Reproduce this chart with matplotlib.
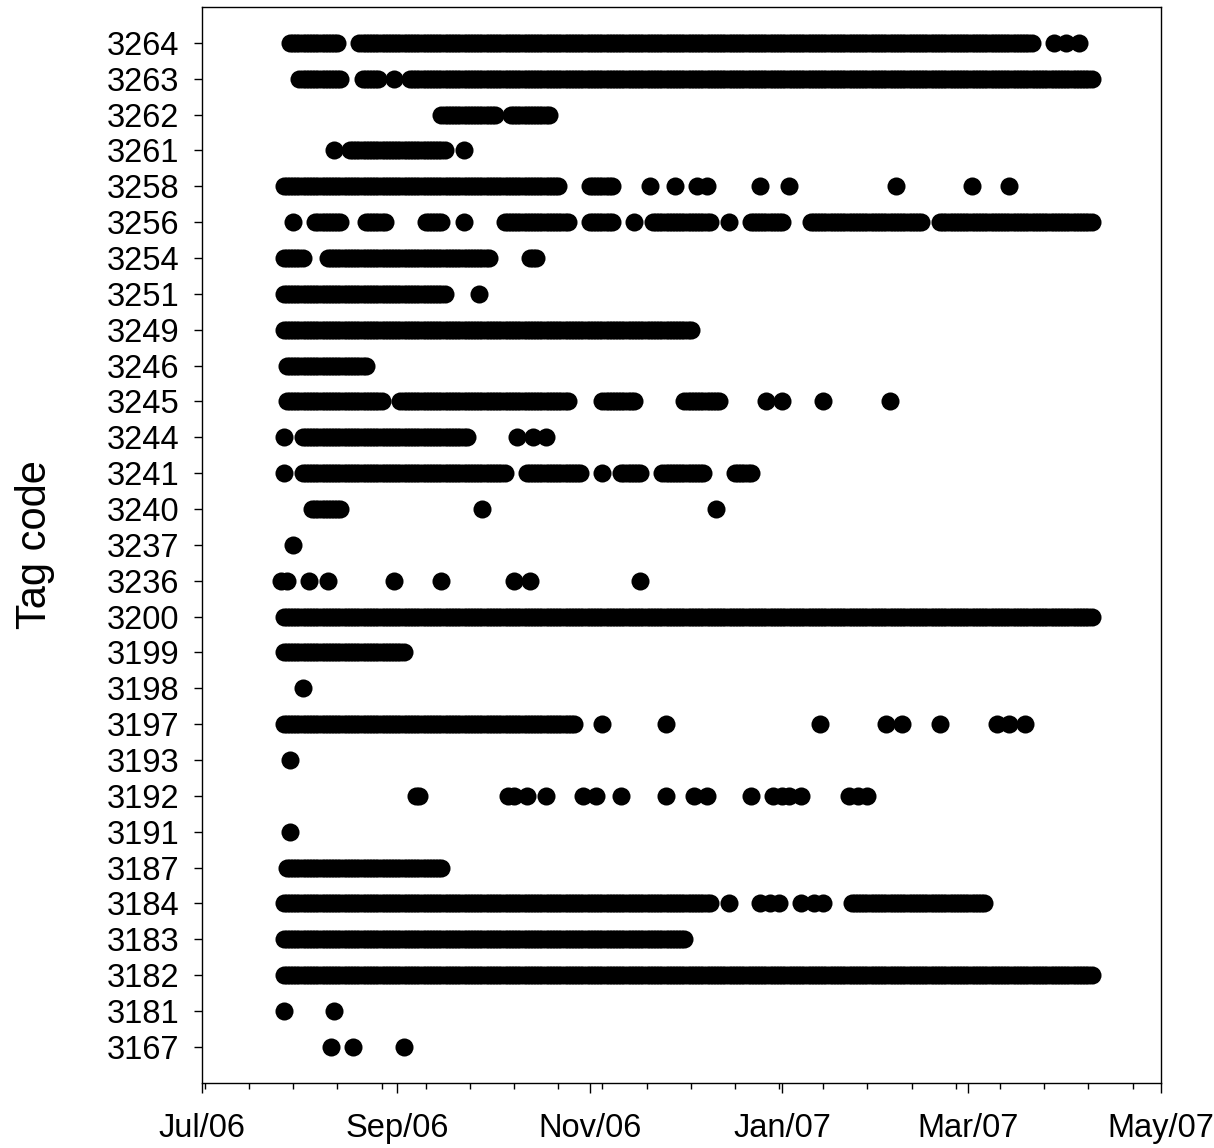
import matplotlib
matplotlib.use("Agg")
import matplotlib.pyplot as plt
import matplotlib.dates as mdates
import pandas as pd

plt.rcParams["font.family"] = ["Liberation Sans", "DejaVu Sans"]

# tag codes, top to bottom
tags = ["3264", "3263", "3262", "3261", "3258", "3256", "3254", "3251", "3249",
        "3246", "3245", "3244", "3241", "3240", "3237", "3236", "3200", "3199",
        "3198", "3197", "3193", "3192", "3191", "3187", "3184", "3183", "3182",
        "3181", "3167"]

# detections: (first day, last day) for daily runs, plain string for a single day
det_3264 = [("2006-07-29", "2006-08-13"), ("2006-08-20", "2007-03-21"),
            "2007-03-28", "2007-04-01", "2007-04-05"]
det_3263 = [("2006-08-01", "2006-08-14"), ("2006-08-21", "2006-08-26"),
            "2006-08-31", ("2006-09-05", "2007-04-09")]
det_3262 = [("2006-09-15", "2006-10-02"), ("2006-10-07", "2006-10-19")]
det_3261 = ["2006-08-12", ("2006-08-17", "2006-09-16"), "2006-09-22"]
det_3258 = [("2006-07-27", "2006-10-22"), ("2006-11-01", "2006-11-08"),
            "2006-11-20", "2006-11-28", "2006-12-05", "2006-12-08", "2006-12-25",
            "2007-01-03", "2007-02-06", "2007-03-02", "2007-03-14"]
det_3256 = ["2006-07-30", ("2006-08-06", "2006-08-14"), ("2006-08-22", "2006-08-28"),
            ("2006-09-10", "2006-09-15"), "2006-09-22", ("2006-10-05", "2006-10-25"),
            ("2006-11-01", "2006-11-08"), "2006-11-15", ("2006-11-21", "2006-12-09"),
            "2006-12-15", ("2006-12-22", "2007-01-01"), ("2007-01-10", "2007-02-14"),
            ("2007-02-20", "2007-04-09")]
det_3254 = [("2006-07-27", "2006-08-02"), ("2006-08-10", "2006-09-30"),
            ("2006-10-13", "2006-10-15")]
det_3251 = [("2006-07-27", "2006-09-16"), "2006-09-27"]
det_3249 = [("2006-07-27", "2006-12-03")]
det_3246 = [("2006-07-28", "2006-08-22")]
det_3245 = [("2006-07-28", "2006-08-27"), ("2006-09-02", "2006-10-25"),
            ("2006-11-05", "2006-11-15"), ("2006-12-01", "2006-12-12"),
            "2006-12-27", "2007-01-01", "2007-01-14", "2007-02-04"]
det_3244 = ["2006-07-27", ("2006-08-02", "2006-09-23"), "2006-10-09",
            "2006-10-14", "2006-10-18"]
det_3241 = ["2006-07-27", ("2006-08-02", "2006-10-05"), ("2006-10-12", "2006-10-29"),
            "2006-11-05", ("2006-11-11", "2006-11-17"), ("2006-11-24", "2006-12-07"),
            ("2006-12-17", "2006-12-22")]
det_3240 = [("2006-08-05", "2006-08-14"), "2006-09-28", "2006-12-11"]
det_3237 = ["2006-07-30"]
det_3236 = ["2006-07-26", "2006-07-28", "2006-08-04", "2006-08-10", "2006-08-31",
            "2006-09-15", "2006-10-08", "2006-10-13", "2006-11-17"]
det_3200 = [("2006-07-27", "2007-04-09")]
det_3199 = [("2006-07-27", "2006-09-03")]
det_3198 = ["2006-08-02"]
det_3197 = [("2006-07-27", "2006-10-27"), "2006-11-05", "2006-11-25", "2007-01-13",
            "2007-02-03", "2007-02-08", "2007-02-20", "2007-03-10", "2007-03-14",
            "2007-03-19"]
det_3193 = ["2006-07-29"]
det_3192 = ["2006-09-07", "2006-09-08", "2006-10-06", "2006-10-08", "2006-10-12",
            "2006-10-18", "2006-10-30", "2006-11-03", "2006-11-11", "2006-11-25",
            "2006-12-04", "2006-12-08", "2006-12-22", "2006-12-29", "2007-01-01",
            "2007-01-03", "2007-01-07", "2007-01-22", "2007-01-25", "2007-01-28"]
det_3191 = ["2006-07-29"]
det_3187 = [("2006-07-28", "2006-09-15")]
det_3184 = [("2006-07-27", "2006-12-09"), "2006-12-15", "2006-12-25", "2006-12-28",
            "2006-12-31", "2007-01-07", "2007-01-11", "2007-01-14",
            ("2007-01-23", "2007-03-06")]
det_3183 = [("2006-07-27", "2006-12-01")]
det_3182 = [("2006-07-27", "2007-04-09")]
det_3181 = ["2006-07-27", "2006-08-12"]
det_3167 = ["2006-08-11", "2006-08-18", "2006-09-03"]

detections = [det_3264, det_3263, det_3262, det_3261, det_3258, det_3256, det_3254,
              det_3251, det_3249, det_3246, det_3245, det_3244, det_3241, det_3240,
              det_3237, det_3236, det_3200, det_3199, det_3198, det_3197, det_3193,
              det_3192, det_3191, det_3187, det_3184, det_3183, det_3182, det_3181,
              det_3167]


def expand(periods):
    """Turn a list of runs / single days into a list of daily timestamps."""
    days = []
    for p in periods:
        if isinstance(p, tuple):
            days.extend(pd.date_range(p[0], p[1], freq="D"))
        else:
            days.append(pd.Timestamp(p))
    return days


fig = plt.figure(figsize=(12.14, 11.48), dpi=100)
ax = fig.add_axes([0.1661, 0.0569, 0.7902, 0.937])

for i, periods in enumerate(detections):
    days = expand(periods)
    ax.plot(days, [i] * len(days), "o", color="black", markersize=13, markeredgewidth=0)

# axes
ax.set_ylim(29, -1)
ax.set_yticks(range(len(tags)))
ax.set_yticklabels(tags)
ax.set_xlim(pd.Timestamp("2006-07-01"), pd.Timestamp("2007-05-01"))
ax.xaxis.set_major_locator(mdates.MonthLocator(bymonth=[1, 3, 5, 7, 9, 11]))
ax.xaxis.set_major_formatter(mdates.DateFormatter("%b/%y"))
ax.set_xticks(pd.date_range("2006-07-02", "2007-04-30", freq="14D"), minor=True)

for s in ax.spines.values():
    s.set_linewidth(1.0)

ax.tick_params(axis="y", which="both", left=True, right=False, direction="out",
               length=6, width=1, pad=10, labelsize=23.5)
ax.tick_params(axis="x", which="major", bottom=True, top=False, direction="out",
               length=7.5, width=1, pad=14, labelsize=23.5)
ax.tick_params(axis="x", which="minor", bottom=True, top=False, direction="out",
               length=4.5, width=1)

ax.set_ylabel("Tag code", fontsize=30)
ax.yaxis.set_label_coords(-0.153, 0.5)

fig.savefig("out.png", dpi=100)
